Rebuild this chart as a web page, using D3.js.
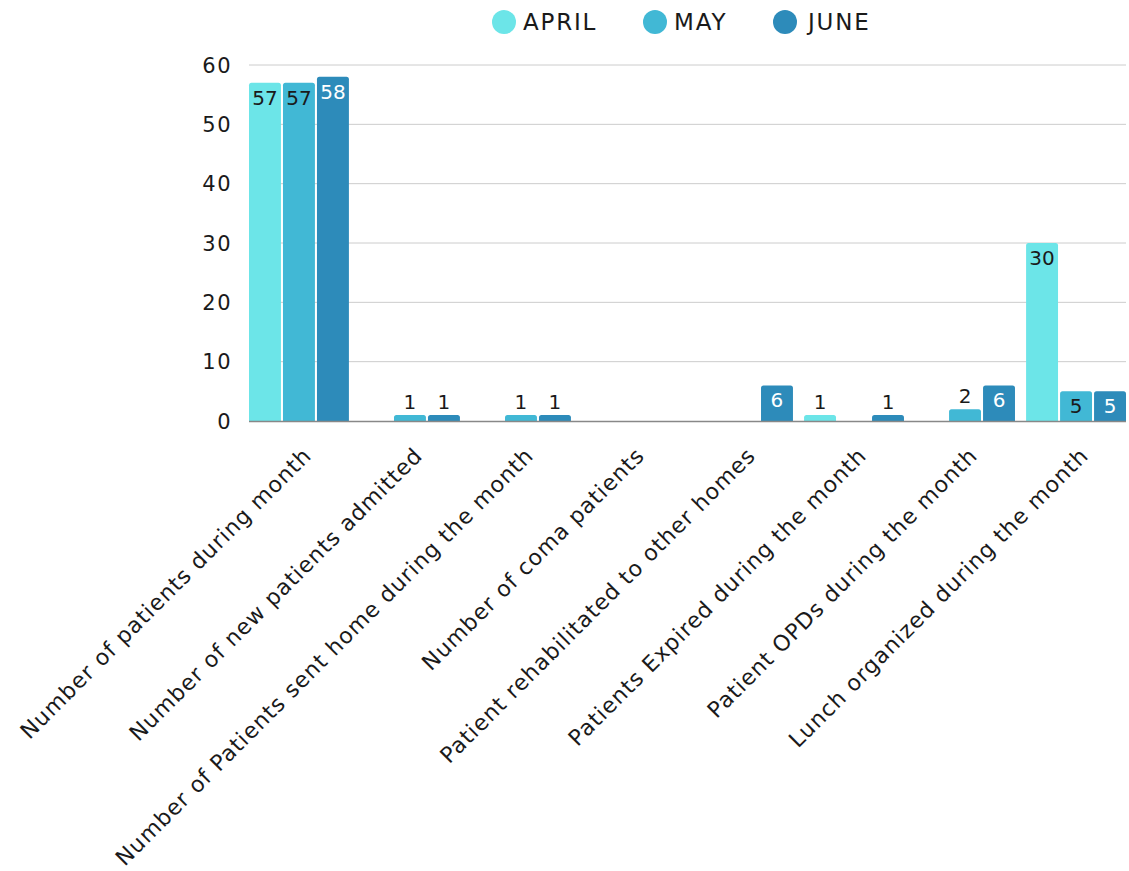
<!DOCTYPE html>
<html>
<head>
<meta charset="utf-8">
<script src="https://cdn.jsdelivr.net/npm/d3@7"></script>
<style>
  body { margin: 0; background: #fff; }
  svg { font-family: 'DejaVu Sans', sans-serif; }
</style>
</head>
<body>
<script>
/* data */
const categories = [
  'Number of patients during month',
  'Number of new patients admitted',
  'Number of Patients sent home during the month',
  'Number of coma patients',
  'Patient rehabilitated to other homes',
  'Patients Expired during the month',
  'Patient OPDs during the month',
  'Lunch organized during the month'
];
const months = ['APRIL', 'MAY', 'JUNE'];
const april = [57, 0, 0, 0, 0, 1, 0, 30];
const may = [57, 1, 1, 0, 0, 0, 2, 5];
const june = [58, 1, 1, 0, 6, 1, 6, 5];
const yTicks = [0, 10, 20, 30, 40, 50, 60];

const colors = ['#6ce5e8', '#41b8d5', '#2d8bba'];
const labelColors = ['#1a1a1a', '#1a1a1a', '#ffffff'];
const seriesVals = [april, may, june];

const W = 1129, H = 871;
// plot area: x 249..1126, y 65..421
const margin = { top: 65, right: 3, bottom: 450, left: 249 };
const plotBottom = 421;

const svg = d3.select('body').append('svg')
  .attr('width', W)
  .attr('height', H);

/* scales */
const x0 = d3.scaleBand()
  .domain(categories)
  .range([margin.left, W - margin.right])
  .paddingInner(0.1)
  .paddingOuter(0);

const x1 = d3.scaleBand()
  .domain(months)
  .range([0, x0.bandwidth()])
  .paddingInner(0.06);

const y = d3.scaleLinear()
  .domain([0, 60])
  .range([plotBottom, margin.top]);

/* gridlines */
svg.append('g')
  .selectAll('line')
  .data(yTicks.filter(d => d > 0))
  .enter().append('line')
  .attr('x1', margin.left)
  .attr('x2', W - margin.right)
  .attr('y1', d => y(d))
  .attr('y2', d => y(d))
  .attr('stroke', '#cccccc')
  .attr('stroke-width', 1);

/* y axis labels */
svg.append('g')
  .selectAll('text')
  .data(yTicks)
  .enter().append('text')
  .attr('x', 232)
  .attr('y', d => y(d))
  .attr('dy', '0.36em')
  .attr('text-anchor', 'end')
  .style('font-size', '21px')
  .style('letter-spacing', '1.5px')
  .style('fill', '#1a1a1a')
  .text(d => d);

/* bars */
const rows = [];
categories.forEach((c, i) => {
  months.forEach((m, j) => {
    rows.push({ cat: c, month: m, j: j, v: seriesVals[j][i] });
  });
});

const r = 2.5;
function barPath(d) {
  const bx = x0(d.cat) + x1(d.month), bw = x1.bandwidth();
  const top = y(d.v), bot = y(0);
  const rr = Math.min(r, (bot - top));
  return `M${bx},${bot}V${top + rr}Q${bx},${top} ${bx + rr},${top}H${bx + bw - rr}Q${bx + bw},${top} ${bx + bw},${top + rr}V${bot}Z`;
}

svg.append('g')
  .selectAll('path')
  .data(rows.filter(d => d.v > 0))
  .enter().append('path')
  .attr('d', barPath)
  .attr('fill', d => colors[d.j]);

/* baseline */
svg.append('line')
  .attr('x1', margin.left)
  .attr('x2', W - margin.right)
  .attr('y1', y(0) + 0.5)
  .attr('y2', y(0) + 0.5)
  .attr('stroke', '#888')
  .attr('stroke-width', 1.5);

/* value labels */
const isInside = d => y(0) - y(d.v) > 25;
svg.append('g')
  .selectAll('text')
  .data(rows.filter(d => d.v > 0))
  .enter().append('text')
  .attr('x', d => x0(d.cat) + x1(d.month) + x1.bandwidth() / 2)
  .attr('y', d => isInside(d) ? y(d.v) + 22 : y(d.v) - 6)
  .attr('text-anchor', 'middle')
  .style('font-size', '20px')
  .style('fill', d => isInside(d) ? labelColors[d.j] : '#1a1a1a')
  .text(d => d.v);

/* x labels, rotated */
svg.append('g')
  .selectAll('text')
  .data(categories)
  .enter().append('text')
  .attr('transform', d => `translate(${x0(d) + x0.bandwidth() / 2 + 3},${446}) rotate(-45)`)
  .attr('text-anchor', 'end')
  .attr('dy', '0.7em')
  .style('font-size', '22px')
  .style('letter-spacing', '1px')
  .style('fill', '#1a1a1a')
  .text(d => d);

/* legend */
const legendX = [504, 655, 785];
const legend = svg.append('g')
  .selectAll('g')
  .data(months)
  .enter().append('g')
  .attr('transform', (d, i) => `translate(${legendX[i]},22)`);

legend.append('circle')
  .attr('r', 12)
  .attr('fill', (d, i) => colors[i]);

legend.append('text')
  .attr('x', (d, i) => i === 2 ? 23 : 19)
  .attr('dy', '0.36em')
  .style('font-size', '23px')
  .style('letter-spacing', '1.8px')
  .style('fill', '#1a1a1a')
  .text(d => d);
</script>
</body>
</html>
